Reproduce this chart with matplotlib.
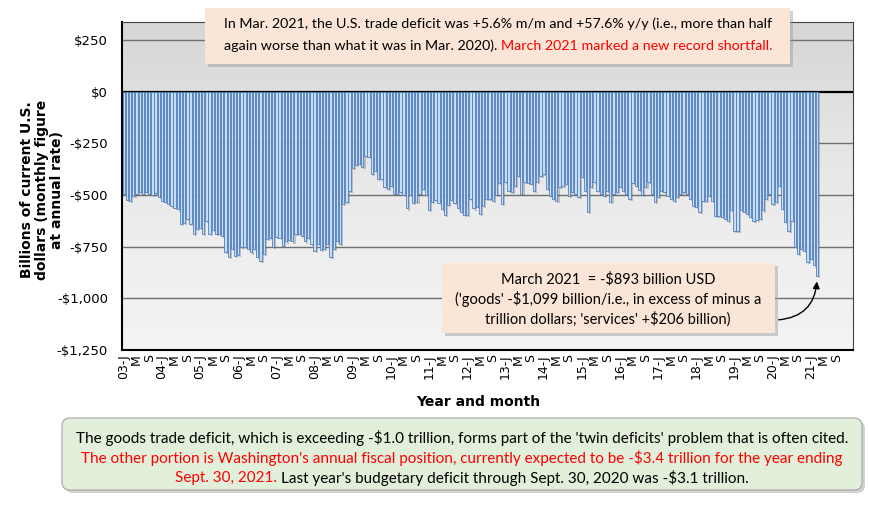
import matplotlib
matplotlib.use("Agg")
import matplotlib.pyplot as plt
import numpy as np
from matplotlib.patches import FancyBboxPatch
from matplotlib.transforms import IdentityTransform
import matplotlib.patheffects as pe

# ---------------- data (billions USD, monthly figure at annual rate) ----------------
start_year = 2003
balance_2003 = [-495, -524, -527, -503, -495, -484, -495, -484, -495, -500, -490, -510]
balance_2004 = [-530, -535, -545, -555, -562, -570, -640, -635, -615, -640, -690, -665]
balance_2005 = [-660, -690, -625, -690, -670, -690, -690, -700, -775, -800, -760, -795]
balance_2006 = [-790, -750, -750, -762, -778, -762, -801, -817, -785, -713, -708, -750]
balance_2007 = [-705, -710, -745, -725, -716, -725, -690, -687, -698, -725, -710, -735]
balance_2008 = [-770, -735, -765, -760, -735, -801, -760, -725, -735, -545, -535, -480]
balance_2009 = [-370, -355, -350, -366, -309, -317, -398, -382, -422, -422, -460, -471]
balance_2010 = [-455, -495, -497, -484, -500, -565, -500, -540, -532, -495, -471, -500]
balance_2011 = [-573, -532, -525, -540, -570, -595, -548, -525, -540, -565, -580, -595]
balance_2012 = [-595, -520, -565, -560, -592, -552, -519, -519, -529, -500, -442, -545]
balance_2013 = [-438, -479, -487, -455, -406, -495, -438, -443, -447, -479, -438, -406]
balance_2014 = [-398, -471, -503, -519, -527, -463, -455, -447, -503, -487, -495, -511]
balance_2015 = [-414, -479, -583, -463, -438, -480, -495, -503, -479, -535, -495, -487]
balance_2016 = [-463, -479, -495, -519, -443, -455, -476, -498, -463, -438, -495, -535]
balance_2017 = [-511, -479, -487, -503, -519, -527, -511, -495, -487, -495, -519, -551]
balance_2018 = [-559, -583, -527, -527, -503, -527, -600, -600, -608, -616, -624, -575]
balance_2019 = [-672, -672, -575, -584, -592, -608, -624, -619, -616, -575, -519, -495]
balance_2020 = [-543, -535, -455, -567, -632, -672, -624, -750, -785, -761, -769, -825]
balance_2021 = [-809, -841, -893]

values = (balance_2003 + balance_2004 + balance_2005 + balance_2006 + balance_2007 +
          balance_2008 + balance_2009 + balance_2010 + balance_2011 + balance_2012 +
          balance_2013 + balance_2014 + balance_2015 + balance_2016 + balance_2017 +
          balance_2018 + balance_2019 + balance_2020 + balance_2021)

last_tick_year = 2021
y_ticks = [250, 0, -250, -500, -750, -1000, -1250]
y_tick_labels = ["$250", "$0", "-$250", "-$500", "-$750", "-$1,000", "-$1,250"]

# ---------------- figure ----------------
W, H = 870, 505
fig = plt.figure(figsize=(W / 100, H / 100), dpi=100)
fig.patch.set_facecolor("white")

ax_left, ax_right, ax_top, ax_bot = 122, 853, 22, 350
ax = fig.add_axes([ax_left / W, 1 - ax_bot / H, (ax_right - ax_left) / W, (ax_bot - ax_top) / H])

ymin, ymax = -1250, 250 + 250 * 18 / 51.7
ax.set_ylim(ymin, ymax)
xlo, xhi = -0.55, 229.3
ax.set_xlim(xlo, xhi)

# gradient background (darker at top, lighter toward bottom)
grad = np.linspace(0, 1, 256).reshape(-1, 1)
ax.imshow(grad, extent=[xlo, xhi, ymin, ymax], aspect="auto", origin="upper",
          cmap=matplotlib.colors.LinearSegmentedColormap.from_list(
              "bg", ["#d6d6d6", "#e4e4e4", "#eeeeee", "#f3f3f3"]),
          zorder=0)
ax.set_autoscale_on(False)

for yv in y_ticks:
    ax.axhline(yv, color="#000000" if yv == 0 else "#707070", lw=1.6 if yv == 0 else 1.0, zorder=1)

x = np.arange(len(values))
bars = ax.bar(x, values, width=0.72, color="#c9def3", edgecolor="#4f7fbf", linewidth=0.6, zorder=2)
for b in bars:
    b.set_path_effects([pe.SimplePatchShadow(offset=(1.5, -1.5), alpha=0.3, shadow_rgbFace="#555555"),
                        pe.Normal()])

ax.set_yticks(y_ticks)
ax.set_yticklabels(y_tick_labels, fontsize=9.5, family="DejaVu Sans")
ax.tick_params(axis="y", length=0, pad=10)

n_months = (last_tick_year - start_year) * 12 + 9
tick_pos = list(range(0, n_months, 4))
tick_lab = []
for p in tick_pos:
    m = p % 12
    if m == 0:
        tick_lab.append(f"{(start_year + p // 12) % 100:02d}-J")
    elif m == 4:
        tick_lab.append("M")
    else:
        tick_lab.append("S")
ax.set_xticks(tick_pos)
ax.set_xticklabels(tick_lab, rotation=90, fontsize=9, family="DejaVu Sans")
ax.tick_params(axis="x", length=0, pad=3)

for s in ["left", "bottom"]:
    ax.spines[s].set_color("black")
    ax.spines[s].set_linewidth(1.5)
for s in ["top", "right"]:
    ax.spines[s].set_color("#444444")
    ax.spines[s].set_linewidth(0.8)

fig.text(478 / W, 1 - 402 / H, "Year and month", ha="center", va="center",
         fontsize=10, fontweight="bold", family="DejaVu Sans")
fig.text(42 / W, 1 - 190 / H, "Billions of current U.S.\ndollars (monthly figure\nat annual rate)",
         ha="center", va="center", rotation=90, fontsize=10, fontweight="bold",
         family="DejaVu Sans", linespacing=1.1)

# ---------------- annotation boxes ----------------
ident = IdentityTransform()


def box(x0, y0, x1, y1, fc, ec="none", rounded=False):
    style = "round,pad=0,rounding_size=8" if rounded else "square,pad=0"
    shadow = FancyBboxPatch((x0 + 3, H - y1 - 3), x1 - x0, y1 - y0, boxstyle=style,
                            transform=ident, fc="#999999", ec="none", alpha=0.45, zorder=5)
    p = FancyBboxPatch((x0, H - y1), x1 - x0, y1 - y0, boxstyle=style,
                       transform=ident, fc=fc, ec=ec, lw=0.8, zorder=6)
    fig.patches.extend([shadow, p])


renderer = fig.canvas.get_renderer()


def line(segs, xc, y, size):
    kw = dict(family="Lato", fontsize=size)
    texts = []
    for s, c in segs:
        t = fig.text(0, H - y, s, color=c, transform=ident, va="center", ha="left", zorder=7, **kw)
        texts.append(t)
    widths = [t.get_window_extent(renderer).width for t in texts]
    t1 = fig.text(0, 0, "a a", **kw)
    t2 = fig.text(0, 0, "aa", **kw)
    space = t1.get_window_extent(renderer).width - t2.get_window_extent(renderer).width
    t1.remove()
    t2.remove()
    total = sum(widths) + space * (len(texts) - 1)
    xs = xc - total / 2
    for t, w in zip(texts, widths):
        t.set_x(xs)
        xs += w + space


RED = "#ff0000"
box(205, 8, 790, 64, "#fbe5d6")
line([("In Mar. 2021, the U.S. trade deficit was +5.6% m/m and +57.6% y/y (i.e., more than half", "black")], 498, 24, 10.3)
line([("again worse than what it was in Mar. 2020).", "black"),
      ("March 2021 marked a new record shortfall.", RED)], 498, 46, 10.3)

box(442, 263, 775, 333, "#fbe5d6")
line([("March 2021  = -$893 billion USD", "black")], 608, 279, 10.5)
line([("('goods' -$1,099 billion/i.e., in excess of minus a", "black")], 608, 299, 10.5)
line([("trillion dollars; 'services' +$206 billion)", "black")], 608, 319, 10.5)

ax.annotate("", xy=(218, -905), xycoords="data", xytext=(776, H - 320), textcoords="figure pixels",
            arrowprops=dict(arrowstyle="-|>", connectionstyle="arc3,rad=0.45", color="black",
                            lw=1.0, mutation_scale=10), zorder=8, annotation_clip=False)

box(62, 418, 862, 490, "#e2efda", ec="#a6a6a6", rounded=True)
line([("The goods trade deficit, which is exceeding -$1.0 trillion, forms part of the 'twin deficits' problem that is often cited.", "black")], 462, 438, 11)
line([("The other portion is Washington's annual fiscal position, currently expected to be -$3.4 trillion for the year ending", RED)], 462, 458, 11)
line([("Sept. 30, 2021.", RED), ("Last year's budgetary deficit through Sept. 30, 2020 was -$3.1 trillion.", "black")], 462, 478, 11)

fig.savefig("out.png", dpi=100)
